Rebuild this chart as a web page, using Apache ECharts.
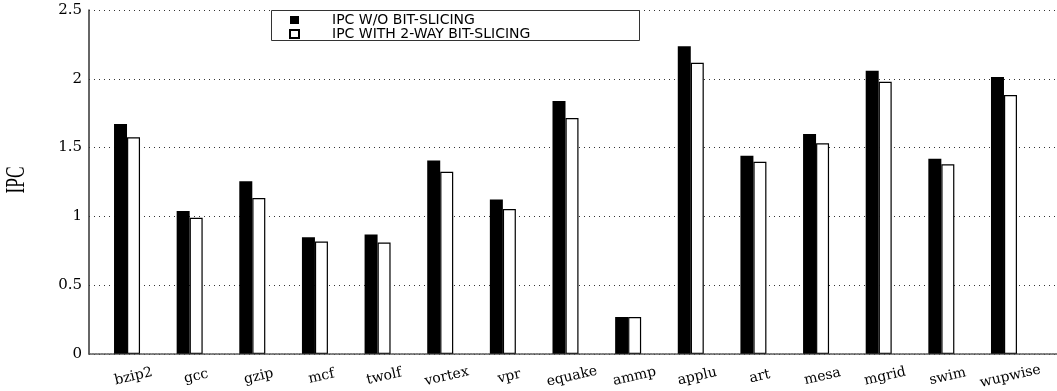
<!DOCTYPE html>
<html>
<head>
<meta charset="utf-8">
<script src="https://cdn.jsdelivr.net/npm/echarts@6/dist/echarts.min.js"></script>
<style>
  html, body { margin: 0; padding: 0; background: #fff; }
  #chart { width: 1057px; height: 391px; }
</style>
</head>
<body>
<div id="chart"></div>
<script>
// SPEC2000 benchmarks
const benchmarks = ['bzip2', 'gcc', 'gzip', 'mcf', 'twolf', 'vortex', 'vpr', 'equake',
                    'ammp', 'applu', 'art', 'mesa', 'mgrid', 'swim', 'wupwise'];
// IPC without bit-slicing
const ipcBase = [1.672, 1.039, 1.254, 0.848, 0.867, 1.406, 1.123, 1.838,
                 0.268, 2.237, 1.440, 1.599, 2.058, 1.418, 2.012];
// IPC with 2-way bit-slicing
const ipcSliced = [1.575, 0.990, 1.133, 0.816, 0.809, 1.324, 1.053, 1.715,
                   0.268, 2.116, 1.396, 1.531, 1.978, 1.379, 1.882];
const yTicks = ['0', '0.5', '1', '1.5', '2', '2.5'];
const seriesNames = ['IPC W/O BIT-SLICING', 'IPC WITH 2-WAY BIT-SLICING'];

const chart = echarts.init(document.getElementById('chart'), null, { renderer: 'canvas' });

const gridTop = 10, gridBottom = 37;

chart.setOption({
  animation: false,
  backgroundColor: '#fff',
  grid: [
    // frame: y axis, dotted grid lines, baseline
    { left: 89, right: 0, top: gridTop, bottom: gridBottom },
    // bar area
    { left: 95.7, right: 21.7, top: gridTop, bottom: gridBottom }
  ],
  xAxis: [
    {
      gridIndex: 0, type: 'value', min: 0, max: 1,
      axisLine: { show: true, lineStyle: { color: '#555', width: 1.5, type: [2, 1] } },
      axisTick: { show: false }, axisLabel: { show: false }, splitLine: { show: false }
    },
    {
      gridIndex: 1, type: 'category', data: benchmarks,
      axisLine: { show: false }, axisTick: { show: false },
      axisLabel: {
        rotate: 13, interval: 0, align: 'center', verticalAlign: 'top',
        margin: 17, padding: [0, 0, 0, 10],
        fontFamily: 'DejaVu Serif', fontSize: 14, color: '#000'
      }
    }
  ],
  yAxis: [
    {
      gridIndex: 0, type: 'value', min: 0, max: 2.5, interval: 0.5,
      axisLine: { show: true, lineStyle: { color: '#333', width: 1.5 } },
      axisTick: { show: false },
      axisLabel: {
        margin: 7, fontFamily: 'DejaVu Serif', fontSize: 15, color: '#000',
        formatter: (v) => yTicks[Math.round(v / 0.5)]
      },
      splitLine: { show: true, lineStyle: { color: '#333', width: 1, type: [1, 4] } }
    },
    {
      gridIndex: 1, type: 'value', min: 0, max: 2.5, interval: 0.5, show: false
    }
  ],
  legend: {
    orient: 'vertical', left: 289, top: 13,
    itemWidth: 9, itemHeight: 8, itemGap: 0, padding: 0,
    icon: 'rect', z: 10,
    textStyle: {
      fontFamily: 'DejaVu Sans', fontSize: 14, lineHeight: 13, color: '#000',
      padding: [0, 0, 0, 28]
    },
    data: seriesNames
  },
  graphic: [
    {
      type: 'rect', z: 5,
      shape: { x: 271.5, y: 10.5, width: 368, height: 30 },
      style: { fill: '#fff', stroke: '#333', lineWidth: 1 }
    },
    {
      type: 'text', z: 5,
      x: 17, y: 180, rotation: Math.PI / 2, scaleX: 0.62,
      style: {
        text: 'IPC', fontFamily: 'Liberation Serif', fontSize: 28, fill: '#000',
        align: 'center', verticalAlign: 'middle'
      }
    }
  ],
  series: [
    {
      name: seriesNames[0], type: 'bar', xAxisIndex: 1, yAxisIndex: 1,
      data: ipcBase, barWidth: 13, barGap: '0%',
      itemStyle: { color: '#000', borderColor: '#000', borderWidth: 0 }
    },
    {
      name: seriesNames[1], type: 'bar', xAxisIndex: 1, yAxisIndex: 1,
      data: ipcSliced, barWidth: 13, barGap: '0%',
      itemStyle: { color: '#fff', borderColor: '#000', borderWidth: 1.2 }
    }
  ]
});
</script>
</body>
</html>
